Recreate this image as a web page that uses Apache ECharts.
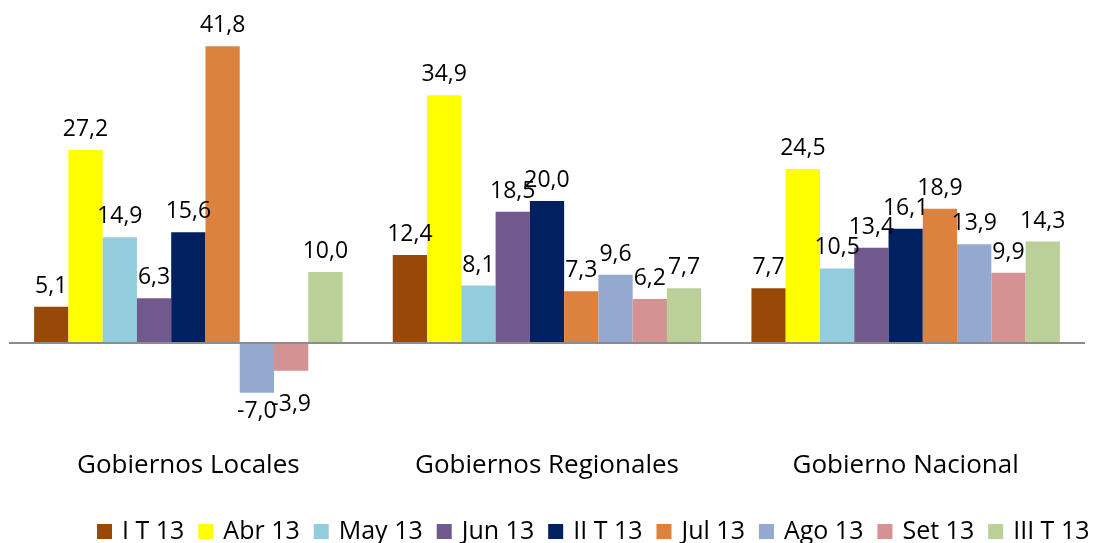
<!DOCTYPE html>
<html>
<head>
<meta charset="utf-8">
<script src="https://cdn.jsdelivr.net/npm/echarts@6/dist/echarts.min.js"></script>
<style>
html,body{margin:0;padding:0;background:#fff;}
#chart{width:1102px;height:543px;}
</style>
</head>
<body>
<div id="chart"></div>
<script>
const categories = ['Gobiernos Locales', 'Gobiernos Regionales', 'Gobierno Nacional'];
const seriesNames = ['I T 13', 'Abr 13', 'May 13', 'Jun 13', 'II T 13', 'Jul 13', 'Ago 13', 'Set 13', 'III T 13'];
const iT13   = [5.1, 12.4, 7.7];
const abr13  = [27.2, 34.9, 24.5];
const may13  = [14.9, 8.1, 10.5];
const jun13  = [6.3, 18.5, 13.4];
const iiT13  = [15.6, 20.0, 16.1];
const jul13  = [41.8, 7.3, 18.9];
const ago13  = [-7.0, 9.6, 13.9];
const set13  = [-3.9, 6.2, 9.9];
const iiiT13 = [10.0, 7.7, 14.3];

const seriesValues = [iT13, abr13, may13, jun13, iiT13, jul13, ago13, set13, iiiT13];
const colors = ['#984807', '#FFFF00', '#93CDDD', '#71598E', '#002060', '#DC823E', '#95A9D0', '#D49292', '#BBCF98'];
const FONT = 'Open Sans';

// label placement tweaks (series index - category index), mirroring the original's overlap avoidance
const labelTweaks = {
  '4-1': { offset: [13, 0] },
  '7-0': { distance: 22 }
};

const fmt = v => v.toFixed(1).replace('.', ',');

const series = seriesNames.map((name, i) => {
  const s = {
    name: name,
    type: 'bar',
    barGap: '0%',
    barCategoryGap: '14%',
    itemStyle: { color: colors[i] },
    label: {
      show: true,
      position: 'top',
      distance: 9,
      fontFamily: FONT,
      fontSize: 23,
      color: '#000',
      formatter: p => fmt(p.value)
    },
    labelLayout: { hideOverlap: false },
    data: seriesValues[i].map((v, j) => ({
      value: v,
      label: Object.assign(v < 0 ? { position: 'bottom', distance: 7 } : {}, labelTweaks[i + '-' + j] || {})
    }))
  };
  if (i === 0) {
    s.markLine = {
      silent: true,
      symbol: ['none', 'none'],
      label: { show: false },
      lineStyle: { color: '#8c8c8c', width: 2, type: 'solid' },
      data: [{ yAxis: 0 }]
    };
  }
  return s;
});

const chart = echarts.init(document.getElementById('chart'));
chart.setOption({
  backgroundColor: '#fff',
  animation: false,
  grid: { left: 9, right: 17, top: 23.5, bottom: 93.5, containLabel: false },
  legend: {
    data: seriesNames,
    top: 519,
    left: 97,
    width: 1005,
    padding: 0,
    icon: 'rect',
    itemWidth: 15,
    itemHeight: 15,
    itemGap: 14,
    textStyle: { fontFamily: FONT, fontSize: 25, color: '#000', padding: [0, 0, 0, 5] }
  },
  xAxis: {
    type: 'category',
    data: categories,
    axisLine: { show: false },
    axisTick: { show: false },
    axisLabel: { fontFamily: FONT, fontSize: 26, color: '#000', margin: 3 }
  },
  yAxis: {
    type: 'value',
    min: -15,
    max: 45,
    show: false
  },
  series: series
});
</script>
</body>
</html>
